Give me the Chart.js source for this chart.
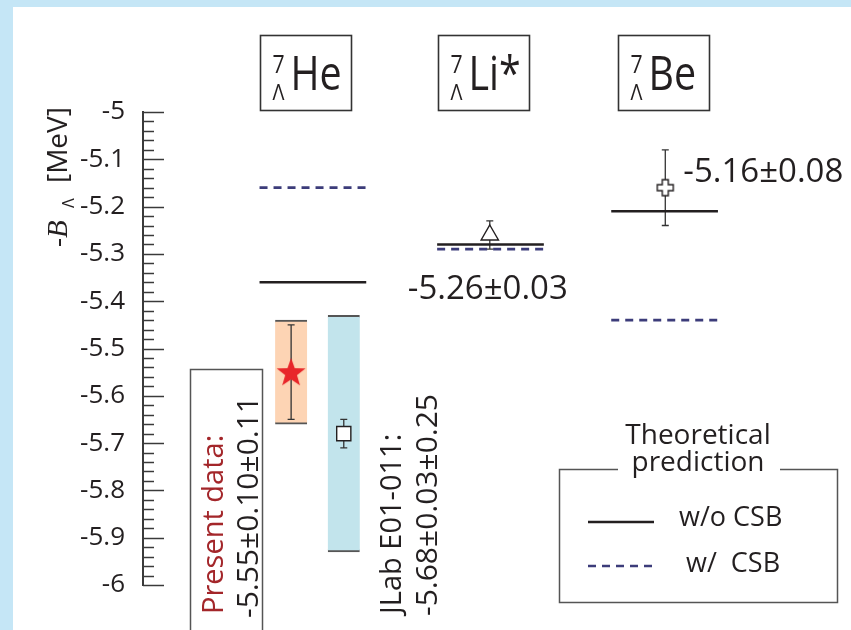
<!DOCTYPE html>
<html lang="en">
<head>
<meta charset="UTF-8">
<title>A = 7 hypernuclei binding energies</title>
<script src="https://cdn.jsdelivr.net/npm/chart.js"></script>
<style>
  html, body { margin: 0; padding: 0; background: #c5e6f6; }
  canvas { display: block; }
</style>
</head>
<body>
<canvas id="chart" width="851" height="630"></canvas>
<script>
// groups along the (hidden) x axis, axis units 0-100
const nuclei = ['He', 'Li*', 'Be'];
const nucleusX = [24.2, 49.5, 74.3];
const titleX = [23.1, 48.5, 74.2];

// theoretical -B_Lambda [MeV]
const theoryNoCSB = [-5.36, -5.28, -5.21];
const theoryCSB = [-5.16, -5.29, -5.44];

// measured points: present data, JLab E01-011, 7Li*, 7Be
const measX = [21.1, 28.6, 49.4, 74.4];
const measValue = [-5.55, -5.68, -5.26, -5.16];
const measStat = [0.10, 0.03, 0.03, 0.08];
const measSyst = [0.11, 0.25];   // only the two 7He results have a systematic band

const yTickLabels = ['-5', '-5.1', '-5.2', '-5.3', '-5.4', '-5.5', '-5.6', '-5.7', '-5.8', '-5.9', '-6'];

const FONT = '"Open Sans", sans-serif';
const INK = '#231f20';
const lineHalf = 7.6;

function theoryPoints(vals) {
  const pts = [];
  vals.forEach((v, i) => {
    pts.push({x: nucleusX[i] - lineHalf, y: v});
    pts.push({x: nucleusX[i] + lineHalf, y: v});
    pts.push({x: nucleusX[i] + lineHalf + 1, y: null}); // break between groups
  });
  return pts;
}

function makeStar() {
  const c = document.createElement('canvas');
  c.width = 32; c.height = 32;
  const g = c.getContext('2d');
  g.beginPath();
  for (let k = 0; k < 10; k++) {
    const r = k % 2 ? 6.2 : 15.2;
    const a = -Math.PI / 2 + k * Math.PI / 5;
    g.lineTo(16 + r * Math.cos(a), 17 + r * Math.sin(a));
  }
  g.closePath();
  g.fillStyle = '#e8262a';
  g.fill();
  return c;
}

function makePlus() {
  const c = document.createElement('canvas');
  c.width = 20; c.height = 20;
  const g = c.getContext('2d');
  const m = 10, a = 3, b = 8;
  const p = [[m-a,m-b],[m+a,m-b],[m+a,m-a],[m+b,m-a],[m+b,m+a],[m+a,m+a],
             [m+a,m+b],[m-a,m+b],[m-a,m+a],[m-b,m+a],[m-b,m-a],[m-a,m-a]];
  g.beginPath();
  p.forEach(([x, y], i) => i ? g.lineTo(x, y) : g.moveTo(x, y));
  g.closePath();
  g.fillStyle = '#fff';
  g.fill();
  g.strokeStyle = INK;
  g.lineWidth = 1.4;
  g.stroke();
  return c;
}

function txt(ctx, s, x, y, font, color, align, sx, rot) {
  ctx.save();
  ctx.translate(x, y);
  if (rot) ctx.rotate(rot);
  ctx.scale(sx || 1, 1);
  ctx.font = font;
  ctx.fillStyle = color || INK;
  ctx.textAlign = align || 'left';
  ctx.textBaseline = 'alphabetic';
  ctx.fillText(s, 0, 0);
  ctx.restore();
}

// blue frame with white panel
const framePlugin = {
  id: 'frame',
  beforeDraw(chart) {
    const ctx = chart.ctx;
    ctx.save();
    ctx.fillStyle = '#c5e6f6';
    ctx.fillRect(0, 0, chart.width, chart.height);
    ctx.fillStyle = '#fff';
    ctx.fillRect(13, 7, chart.width - 13, chart.height - 7);
    ctx.restore();
  }
};

// statistical error bars, drawn over the bands and under the markers
const errorBarPlugin = {
  id: 'errorBars',
  afterDatasetDraw(chart, args) {
    if (args.meta.type !== 'bar') return;
    const {ctx, scales: {x, y}} = chart;
    ctx.save();
    ctx.strokeStyle = '#333';
    ctx.lineWidth = 1.3;
    measValue.forEach((v, i) => {
      const px = x.getPixelForValue(measX[i]);
      const top = y.getPixelForValue(v + measStat[i]);
      const bot = y.getPixelForValue(v - measStat[i]);
      ctx.beginPath();
      ctx.moveTo(px, top); ctx.lineTo(px, bot);
      ctx.moveTo(px - 3.5, top); ctx.lineTo(px + 3.5, top);
      ctx.moveTo(px - 3.5, bot); ctx.lineTo(px + 3.5, bot);
      ctx.stroke();
    });
    ctx.restore();
  }
};

// inward ticks, titles, labels and legend
const annotatePlugin = {
  id: 'annotate',
  afterDraw(chart) {
    const {ctx, scales: {x, y}} = chart;
    const left = chart.chartArea.left;
    ctx.save();
    ctx.strokeStyle = '#3a3a3a';
    ctx.lineWidth = 1.5;
    const steps = Math.round((y.max - y.min) / 0.02);
    for (let k = 0; k <= steps; k++) {
      const py = Math.round(y.getPixelForValue(y.min + k * 0.02)) + 0.5;
      const len = k % 5 === 0 ? 21 : 11;
      ctx.beginPath();
      ctx.moveTo(left, py); ctx.lineTo(left + len, py);
      ctx.stroke();
    }
    ctx.restore();

    // y-axis title: -B_Lambda [MeV]
    ctx.save();
    ctx.translate(67, 247);
    ctx.rotate(-Math.PI / 2);
    ctx.fillStyle = INK;
    ctx.font = '28px ' + FONT;
    ctx.fillText('-', 0, 0);
    ctx.font = 'italic 29px "Liberation Serif", serif';
    ctx.fillText('B', 9, 0);
    ctx.font = '16px ' + FONT;
    ctx.fillText('\u039b', 39, 7);
    ctx.font = '28px ' + FONT;
    ctx.fillText('[MeV]', 64, 0);
    ctx.restore();

    // boxed hypernucleus names
    nuclei.forEach((n, i) => {
      const cx = x.getPixelForValue(titleX[i]);
      const bx = Math.round(cx - 45.5) + 0.5;
      ctx.save();
      ctx.strokeStyle = '#333';
      ctx.lineWidth = 1.6;
      ctx.strokeRect(bx, 35.5, 91, 75);
      ctx.restore();
      txt(ctx, '7', bx + 12, 73, '25px ' + FONT, INK, 'left', 0.85);
      txt(ctx, '\u039b', bx + 12, 100, '22px ' + FONT, INK, 'left', 0.9);
      txt(ctx, n, bx + 30, 90, '48px ' + FONT, INK, 'left', 0.82);
    });

    // value labels for 7Li* and 7Be
    const liX = x.getPixelForValue(measX[2]), liY = y.getPixelForValue(measValue[2]);
    txt(ctx, '-5.26\u00b10.03', liX - 2, liY + 64, '33px ' + FONT, INK, 'center');
    const beX = x.getPixelForValue(measX[3]), beY = y.getPixelForValue(measValue[3]);
    txt(ctx, '-5.16\u00b10.08', beX + 18, beY - 6, '33px ' + FONT, INK, 'left');

    // vertical captions for the two 7He results
    ctx.save();
    ctx.strokeStyle = '#555';
    ctx.lineWidth = 1.5;
    ctx.strokeRect(190.5, 369.5, 72, 280);
    ctx.restore();
    const up = -Math.PI / 2;
    txt(ctx, 'Present data:', 223, 614, '29px ' + FONT, '#a3262a', 'left', 1, up);
    txt(ctx, '-5.55\u00b10.10\u00b10.11', 258, 618, '30px ' + FONT, INK, 'left', 1, up);
    txt(ctx, 'JLab E01-011:', 401, 614, '29px ' + FONT, INK, 'left', 1, up);
    txt(ctx, '-5.68\u00b10.03\u00b10.25', 437, 616, '30px ' + FONT, INK, 'left', 1, up);

    // legend box
    const ds = chart.data.datasets;
    ctx.save();
    ctx.strokeStyle = '#555';
    ctx.lineWidth = 1.5;
    ctx.beginPath();
    ctx.moveTo(618, 469.5); ctx.lineTo(559.5, 469.5); ctx.lineTo(559.5, 602.5);
    ctx.lineTo(837.5, 602.5); ctx.lineTo(837.5, 469.5); ctx.lineTo(780, 469.5);
    ctx.stroke();
    [[ds[1], 522], [ds[2], 566]].forEach(([d, ly]) => {
      ctx.strokeStyle = d.borderColor;
      ctx.lineWidth = d.borderWidth;
      ctx.setLineDash(d.borderDash || []);
      ctx.beginPath();
      ctx.moveTo(588, ly); ctx.lineTo(654, ly);
      ctx.stroke();
    });
    ctx.restore();
    txt(ctx, 'Theoretical', 698, 444, '28px ' + FONT, INK, 'center');
    txt(ctx, 'prediction', 698, 471, '28px ' + FONT, INK, 'center');
    txt(ctx, ds[1].label, 679, 526, '27px ' + FONT, INK, 'left');
    txt(ctx, ds[2].label, 686, 572, '27px ' + FONT, INK, 'left');
  }
};

new Chart(document.getElementById('chart'), {
  data: {
    datasets: [
      {
        type: 'bar',
        label: 'systematic',
        data: measSyst.map((s, i) => ({x: measX[i], y: [measValue[i] - s, measValue[i] + s]})),
        backgroundColor: ['#fdd4b4', '#c2e4ec'],
        borderColor: '#555',
        borderWidth: {top: 2, bottom: 2, left: 0, right: 0},
        borderSkipped: false,
        barThickness: 32,
        order: 4
      },
      {
        type: 'line',
        label: 'w/o CSB',
        data: theoryPoints(theoryNoCSB),
        borderColor: INK,
        borderWidth: 2.5,
        pointRadius: 0,
        spanGaps: false,
        order: 3
      },
      {
        type: 'line',
        label: 'w/  CSB',
        data: theoryPoints(theoryCSB),
        borderColor: '#3c3c7a',
        borderWidth: 2.7,
        borderDash: [8, 6],
        pointRadius: 0,
        spanGaps: false,
        order: 2
      },
      {
        type: 'scatter',
        label: 'measured',
        data: measX.map((mx, i) => ({x: mx, y: measValue[i]})),
        pointStyle: [makeStar(), 'rect', 'triangle', makePlus()],
        pointRadius: [14, 10, 10, 9],
        backgroundColor: ['#e8262a', '#fff', '#fff', '#fff'],
        borderColor: INK,
        borderWidth: 1.4,
        order: 1
      }
    ]
  },
  options: {
    responsive: false,
    animation: false,
    devicePixelRatio: 1,
    events: [],
    layout: {autoPadding: false, padding: {left: 13, top: 112, right: 6, bottom: 45}},
    plugins: {legend: {display: false}, tooltip: {enabled: false}},
    scales: {
      x: {type: 'linear', min: 0, max: 100, offset: false, display: false},
      y: {
        type: 'linear',
        min: -6,
        max: -5,
        beginAtZero: false,
        afterFit(s) { s.width = 130; },
        afterBuildTicks(s) { s.ticks = yTickLabels.map(t => ({value: parseFloat(t)})); },
        grid: {display: false},
        border: {display: true, color: '#3a3a3a', width: 2},
        ticks: {
          padding: 10,
          color: INK,
          font: {family: FONT, size: 26},
          callback: (v, i) => yTickLabels[i]
        }
      }
    }
  },
  plugins: [framePlugin, errorBarPlugin, annotatePlugin]
});
</script>
</body>
</html>
